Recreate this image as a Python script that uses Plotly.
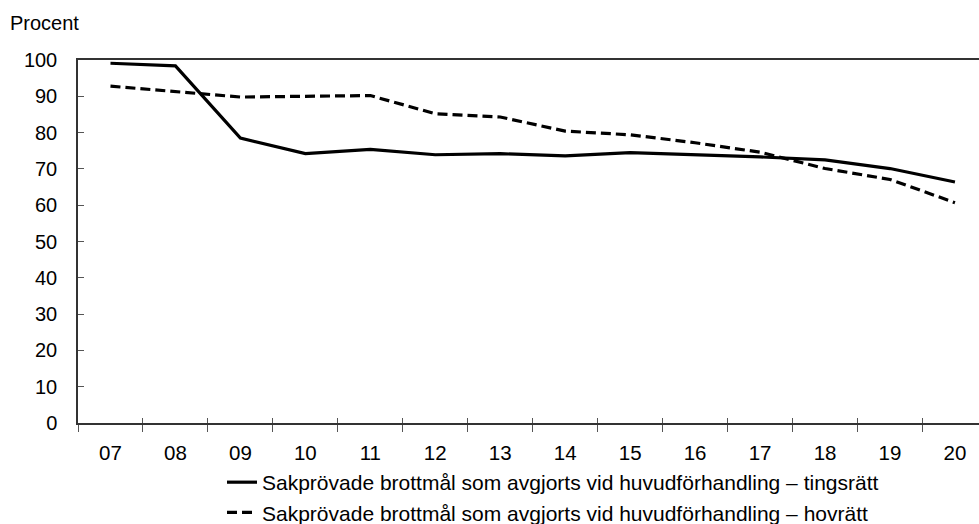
import plotly.graph_objects as go

years = ["07", "08", "09", "10", "11", "12", "13", "14", "15", "16", "17", "18", "19", "20"]
tingsratt = [99.1, 98.4, 78.5, 74.2, 75.4, 73.9, 74.2, 73.6, 74.5, 74.0, 73.3, 72.5, 70.1, 66.4]
hovratt = [92.8, 91.4, 89.8, 90.0, 90.2, 85.2, 84.3, 80.4, 79.4, 77.2, 74.6, 70.1, 67.1, 60.7]
name_t = "Sakprövade brottmål som avgjorts vid huvudförhandling – tingsrätt"
name_h = "Sakprövade brottmål som avgjorts vid huvudförhandling – hovrätt"
y_ticks = [0, 10, 20, 30, 40, 50, 60, 70, 80, 90, 100]

xi = list(range(len(years)))
bounds = [i - 0.5 for i in range(len(years))]
xr = [-0.5, 13.37]

FONT = "Liberation Sans, Arial, sans-serif"
PW = 901.0   # plot width in px
PH = 363.5   # plot height in px

fig = go.Figure()
fig.add_trace(go.Scatter(x=xi, y=tingsratt, mode="lines", name=name_t,
                         legendgroup="a",
                         line=dict(color="black", width=3.2)))
fig.add_trace(go.Scatter(x=xi, y=hovratt, mode="lines", name=name_h,
                         legendgroup="b",
                         line=dict(color="black", width=3.2, dash="10px,5px")))
# empty helper trace so the overlaid tick axis gets drawn
fig.add_trace(go.Scatter(x=[], y=[], xaxis="x2", yaxis="y", showlegend=False,
                         hoverinfo="skip"))

fig.update_layout(
    width=979, height=524,
    margin=dict(l=78, r=0, t=59.5, b=101, autoexpand=False),
    plot_bgcolor="white", paper_bgcolor="white",
    font=dict(family=FONT, size=20, color="black"),
    showlegend=True,
    legend=dict(x=(222 - 78) / PW, y=-0.1075, xanchor="left", yanchor="top",
                traceorder="grouped", tracegroupgap=0,
                font=dict(size=21), bgcolor="rgba(0,0,0,0)"),
    xaxis=dict(range=xr, tickmode="array", tickvals=xi, ticktext=years,
               ticks="", showgrid=False, zeroline=False,
               showline=True, linecolor="#333", linewidth=1.5, mirror=True,
               ticklabelstandoff=11, tickfont=dict(size=20.5),
               minor=dict(tickmode="array", tickvals=bounds, ticks="outside",
                          ticklen=7, tickcolor="#555", tickwidth=1,
                          showgrid=False)),
    xaxis2=dict(range=xr, overlaying="x", anchor="y", side="bottom",
                tickmode="array", tickvals=bounds, ticks="inside", ticklen=5,
                tickcolor="#555", tickwidth=1, showticklabels=False,
                showgrid=False, zeroline=False, showline=False),
    yaxis=dict(range=[0, 100], tickmode="array", tickvals=y_ticks,
               ticks="inside", ticklen=6, tickcolor="#555", tickwidth=1,
               showgrid=False, zeroline=False,
               showline=True, linecolor="#333", linewidth=1.5, mirror=True,
               ticklabelstandoff=15, tickfont=dict(size=20)),
    annotations=[dict(text="Procent", xref="paper", yref="paper",
                      x=-70 / PW, y=(423 - 22) / PH, xanchor="left",
                      yanchor="middle", showarrow=False,
                      font=dict(size=20))],
)

fig.write_html("out.html", config={"displayModeBar": False},
               post_script="document.body.style.margin='0';")
